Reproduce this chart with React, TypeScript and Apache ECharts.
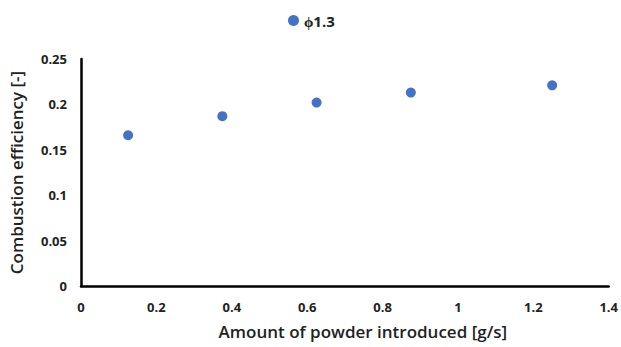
import React, { useEffect, useRef } from "react";
import * as echarts from "echarts";

const seriesName = "ϕ1.3";
const powder = [0.125, 0.375, 0.625, 0.875, 1.25];
const efficiency = [0.166, 0.187, 0.202, 0.213, 0.221];

export default function App() {
  const ref = useRef<HTMLDivElement>(null);
  useEffect(() => {
    const chart = echarts.init(ref.current!, null, { renderer: "svg" });
    chart.setOption({
      animation: false,
      backgroundColor: "#ffffff",
      textStyle: { fontFamily: "Open Sans" },
      legend: {
        top: 8,
        left: 283,
        itemWidth: 11,
        itemHeight: 11,
        itemGap: 4,
        textStyle: { fontSize: 15, fontWeight: "bold", color: "#222", fontFamily: "Open Sans" },
        data: [{ name: seriesName, icon: "circle" }],
      },
      grid: { left: 81, right: 12, top: 59, bottom: 61 },
      xAxis: {
        type: "value",
        min: 0,
        max: 1.4,
        interval: 0.2,
        name: "Amount of powder introduced [g/s]",
        nameLocation: "middle",
        nameGap: 37,
        nameTextStyle: { fontSize: 17, color: "#222", fontWeight: 600, fontFamily: "Open Sans", padding: [0, 0, 0, 36] },
        axisLine: { show: true, lineStyle: { color: "#000", width: 2.5 } },
        axisTick: { show: false },
        splitLine: { show: false },
        axisLabel: { fontSize: 13, fontWeight: "bold", color: "#222", margin: 14, fontFamily: "Open Sans" },
      },
      yAxis: {
        type: "value",
        min: 0,
        max: 0.25,
        interval: 0.05,
        name: "Combustion efficiency [-]",
        nameLocation: "middle",
        nameGap: 56,
        nameTextStyle: { fontSize: 17, color: "#222", fontWeight: 600, fontFamily: "Open Sans" },
        axisLine: { show: true, lineStyle: { color: "#000", width: 2.5 } },
        axisTick: { show: false },
        splitLine: { show: false },
        axisLabel: { fontSize: 13, fontWeight: "bold", color: "#222", margin: 14, fontFamily: "Open Sans" },
      },
      series: [
        {
          name: seriesName,
          type: "scatter",
          symbol: "circle",
          symbolSize: 10,
          itemStyle: { color: "#4472C4", opacity: 1 },
          data: powder.map((x, i) => [x, efficiency[i]]),
        },
      ],
    });
    return () => chart.dispose();
  }, []);
  return <div ref={ref} style={{ width: 621, height: 347, position: "absolute", left: 0, top: 0 }} />;
}
